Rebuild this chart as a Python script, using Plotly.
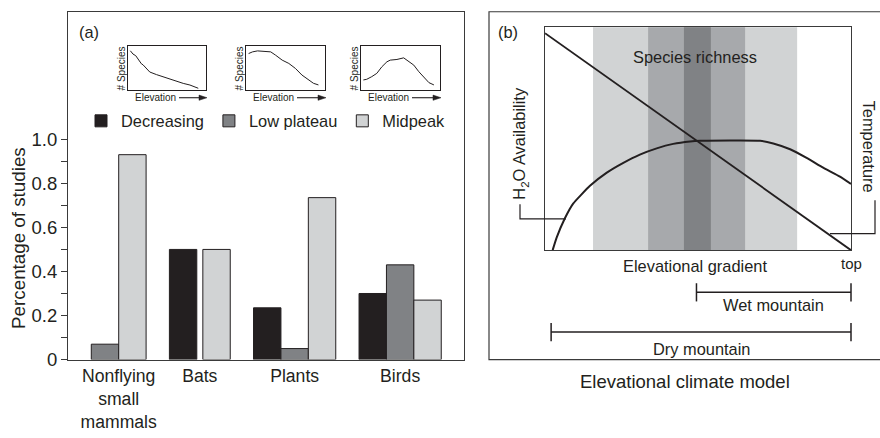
import plotly.graph_objects as go

W, H = 880, 438


def px(x):
    return x / W


def py(y):
    return 1 - y / H


INK = "#231f20"
BOX = "#3a3a3a"
FONT = "Liberation Sans, Arial, sans-serif"

# ---------------- Panel (a): bar chart data ----------------
categories = ["Nonflying<br>small<br>mammals", "Bats", "Plants", "Birds"]
series_names = ["Decreasing", "Low plateau", "Midpeak"]
decreasing = [None, 0.50, 0.235, 0.30]
low_plateau = [0.07, None, 0.05, 0.43]
midpeak = [0.93, 0.50, 0.735, 0.27]
series_colors = ["#231f20", "#808285", "#d1d3d4"]
ytick_vals = [0, 0.2, 0.4, 0.6, 0.8, 1.0]
ytick_text = ["0", "0.2", "0.4", "0.6", "0.8", "1.0"]
yminor_vals = [0.1, 0.3, 0.5, 0.7, 0.9]

# inset sketches (relative elevation vs relative # species)
inset_dec_x = [0.03, 0.064, 0.099, 0.129, 0.172, 0.193, 0.236, 0.279, 0.365, 0.451, 0.536, 0.622, 0.708, 0.794, 0.901]
inset_dec_y = [0.89, 0.815, 0.778, 0.689, 0.593, 0.57, 0.481, 0.407, 0.348, 0.296, 0.244, 0.185, 0.148, 0.111, 0.037]
inset_lp_x = [0.033, 0.083, 0.146, 0.208, 0.313, 0.375, 0.458, 0.542, 0.625, 0.708, 0.792, 0.854, 0.917]
inset_lp_y = [0.827, 0.865, 0.887, 0.88, 0.865, 0.789, 0.677, 0.602, 0.489, 0.338, 0.226, 0.15, 0.113]
inset_mp_x = [0.03, 0.072, 0.136, 0.2, 0.264, 0.328, 0.37, 0.455, 0.54, 0.604, 0.668, 0.732, 0.796, 0.86, 0.923]
inset_mp_y = [0.226, 0.241, 0.301, 0.376, 0.526, 0.639, 0.677, 0.692, 0.729, 0.639, 0.564, 0.414, 0.278, 0.165, 0.113]

# ---------------- Panel (b): elevational climate model ----------------
temp_x = [0.0, 1.0]
temp_y = [0.974, 0.0]
h2o_x = [0.025, 0.038, 0.065, 0.092, 0.147, 0.202, 0.256, 0.31, 0.365, 0.419, 0.474, 0.507,
         0.703, 0.746, 0.801, 0.855, 0.909, 0.964, 1.0]
h2o_y = [0.0, 0.056, 0.143, 0.209, 0.289, 0.348, 0.392, 0.429, 0.457, 0.477, 0.488, 0.491,
         0.491, 0.479, 0.453, 0.414, 0.37, 0.33, 0.297]
band_left = [0.157, 0.337, 0.454]
band_right = [0.824, 0.654, 0.542]
band_colors = ["#d1d3d4", "#a7a9ac", "#808285"]
mountain_names = ["Wet mountain", "Dry mountain"]
mountain_start = [0.495, 0.02]
mountain_end = [1.0, 1.0]
mountain_level = [1, 0]

fig = go.Figure()

# ---- bar positions laid out from the data (present bars packed per group)
BAR_W = 1.0
GROUP_GAP = 0.85
INNER_GAP = 0.22
series = [decreasing, low_plateau, midpeak]
xpos = [[None] * len(categories) for _ in series]
centers = []
cursor = GROUP_GAP
for ci in range(len(categories)):
    present = [si for si in range(len(series)) if series[si][ci] is not None]
    start = cursor
    for k, si in enumerate(present):
        if k > 0 and present[k] - present[k - 1] > 1:
            cursor += INNER_GAP
        xpos[si][ci] = cursor + BAR_W / 2
        cursor += BAR_W
    centers.append((start + cursor) / 2)
    cursor += GROUP_GAP

for si, vals in enumerate(series):
    xs = [xpos[si][ci] for ci in range(len(categories)) if vals[ci] is not None]
    ys = [v for v in vals if v is not None]
    fig.add_trace(go.Bar(
        x=xs, y=ys, width=BAR_W, name=series_names[si],
        marker=dict(color=series_colors[si], line=dict(color=INK, width=1)),
        xaxis="x", yaxis="y", showlegend=True,
    ))

# ---- insets
inset_data = [(inset_dec_x, inset_dec_y), (inset_lp_x, inset_lp_y), (inset_mp_x, inset_mp_y)]
inset_px = [(128, 206), (246, 325), (361, 440)]
for i, (ix, iy) in enumerate(inset_data):
    n = 4 + i
    fig.add_trace(go.Scatter(x=ix, y=iy, mode="lines", line=dict(color=INK, width=1),
                             xaxis=f"x{n}", yaxis=f"y{n}", showlegend=False, hoverinfo="skip"))

# ---- panel (b) traces
fig.add_trace(go.Scatter(x=h2o_x, y=h2o_y, mode="lines", line=dict(color=INK, width=2, shape="spline", smoothing=0.4),
                         xaxis="x2", yaxis="y2", showlegend=False, hoverinfo="skip"))
fig.add_trace(go.Scatter(x=temp_x, y=temp_y, mode="lines", line=dict(color=INK, width=1.8),
                         xaxis="x2", yaxis="y2", showlegend=False, hoverinfo="skip"))

mx, my = [], []
for s, e, lv in zip(mountain_start, mountain_end, mountain_level):
    mx += [s, e, None]
    my += [lv, lv, None]
fig.add_trace(go.Scatter(x=mx, y=my, mode="lines+markers", cliponaxis=False,
                         line=dict(color=INK, width=1.5),
                         marker=dict(symbol="line-ns", size=13, line=dict(color=INK, width=1.5)),
                         xaxis="x3", yaxis="y3", showlegend=False, hoverinfo="skip"))

shapes = []
for l, r, c in zip(band_left, band_right, band_colors):
    shapes.append(dict(type="rect", xref="x2", yref="y2 domain", x0=l, x1=r, y0=0, y1=1,
                       fillcolor=c, line=dict(width=0), layer="below"))
# panel (b) outer frame
shapes.append(dict(type="rect", xref="paper", yref="paper", x0=px(489), x1=px(886), y0=py(368), y1=py(12),
                   line=dict(color=BOX, width=1.2), fillcolor="rgba(0,0,0,0)"))
# leader lines for labels
shapes.append(dict(type="path", xref="paper", yref="paper",
                   path=f"M{px(520)},{py(209)} L{px(520)},{py(224)} L{px(566)},{py(224)}",
                   line=dict(color=INK, width=1.2)))
shapes.append(dict(type="path", xref="paper", yref="paper",
                   path=f"M{px(875)},{py(205)} L{px(875)},{py(239)} L{px(830)},{py(239)}",
                   line=dict(color=INK, width=1.2)))
# "Elevation ->" arrows under the insets
for (x0, x1) in inset_px:
    ya = py(100)
    shapes.append(dict(type="line", xref="paper", yref="paper", x0=px(x0 + 51), x1=px(x1 - 4), y0=ya, y1=ya,
                       line=dict(color=INK, width=1.1)))
    shapes.append(dict(type="path", xref="paper", yref="paper",
                       path=f"M{px(x1 - 7)},{py(97.3)} L{px(x1 + 1)},{ya} L{px(x1 - 7)},{py(102.7)} Z",
                       fillcolor=INK, line=dict(color=INK, width=0.5)))

ann = []
def A(text, x, y, size=16.4, xanchor="center", yanchor="middle", angle=0, xref="paper", yref="paper", **kw):
    d = dict(text=text, x=x, y=y, xref=xref, yref=yref, showarrow=False, xanchor=xanchor, yanchor=yanchor,
             textangle=angle, font=dict(size=size, color=INK, family=FONT))
    d.update(kw)
    ann.append(d)

A("(a)", px(77), py(33), xanchor="left")
A("Percentage of studies", px(18.5), py(244), size=18.8, angle=-90)

for i, (x0, x1) in enumerate(inset_px):
    A("# Species", px(x0 - 7), py(70), size=10, angle=-90)
    A("Elevation", px(x0 + 5), py(100), size=10, xanchor="left")

A("(b)", px(496), py(33), xanchor="left")
A("Species richness", (band_left[0] + band_right[0]) / 2 + 0.0, py(58), xref="x2")
A("H<sub>2</sub>O Availability", px(520), py(147), angle=-90)
A("Temperature", px(869), py(150), angle=90)
A("Elevational gradient", 0.49, py(272), xref="x2")
A("top", 1.0, py(270), xref="x2", size=15)
for name, s, e, lv, sh in zip(mountain_names, mountain_start, mountain_end, mountain_level, [-13, -17]):
    A(name, (s + e) / 2, lv, xref="x3", yref="y3", yshift=sh)
A("Elevational climate model", px(685), py(390), size=18.5)

axis_common = dict(showgrid=False, zeroline=False, showline=True, mirror=True, linecolor=BOX, linewidth=1.2)
layout = dict(
    width=W, height=H, margin=dict(l=0, r=0, t=0, b=0),
    paper_bgcolor="white", plot_bgcolor="white",
    font=dict(family=FONT, color=INK),
    barmode="overlay",
    showlegend=True,
    legend=dict(orientation="h", x=px(81), y=py(124), xanchor="left", yanchor="middle",
                font=dict(size=16.4, color=INK, family=FONT), bgcolor="rgba(0,0,0,0)",
                traceorder="normal", itemclick=False),
    xaxis=dict(domain=[px(68), px(464)], range=[0, 14.45], tickvals=centers, ticktext=categories,
               ticks="", tickfont=dict(size=17.6), **axis_common),
    yaxis=dict(domain=[py(368), py(12)], range=[0, (368 - 12) / 225.5], tickvals=ytick_vals, ticktext=ytick_text,
               ticks="outside", ticklen=6, tickcolor=BOX, tickfont=dict(size=18.5),
               minor=dict(tickvals=yminor_vals, ticks="outside", ticklen=6, tickcolor=BOX, showgrid=False),
               **axis_common),
    xaxis2=dict(domain=[px(545), px(851)], range=[0, 1], showticklabels=False, ticks="", anchor="y2", **axis_common),
    yaxis2=dict(domain=[py(256), py(28)], range=[0, 1], showticklabels=False, ticks="", anchor="x2", **axis_common),
    xaxis3=dict(domain=[px(545), px(851)], range=[0, 1], visible=False, anchor="y3"),
    yaxis3=dict(domain=[py(350), py(289)], range=[-0.25, 1.25], visible=False, anchor="x3"),
    shapes=shapes,
    annotations=ann,
)
for i, (x0, x1) in enumerate(inset_px):
    n = 4 + i
    layout[f"xaxis{n}"] = dict(domain=[px(x0), px(x1)], range=[0, 1], showticklabels=False, ticks="",
                              anchor=f"y{n}", **{**axis_common, "linecolor": INK, "linewidth": 1})
    layout[f"yaxis{n}"] = dict(domain=[py(92), py(47)], range=[0, 1], showticklabels=False, ticks="",
                              anchor=f"x{n}", **{**axis_common, "linecolor": INK, "linewidth": 1})

fig.update_layout(**layout)
fig.write_html("out.html", config={"displayModeBar": False},
               post_script="document.body.style.margin='0';")
